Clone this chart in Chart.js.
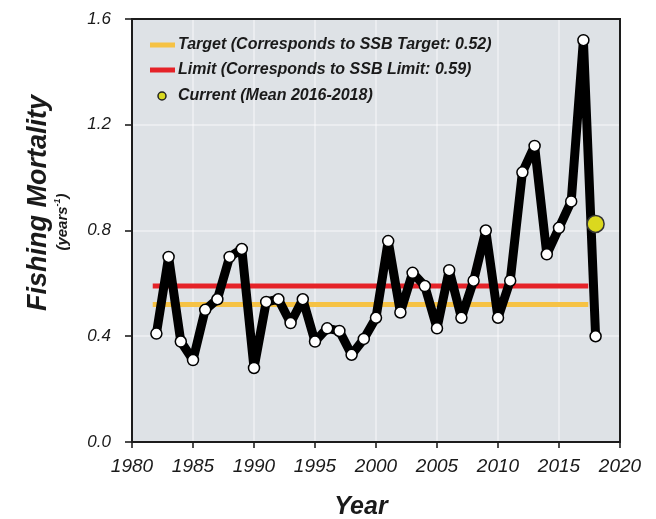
<!DOCTYPE html>
<html>
<head>
<meta charset="utf-8">
<script src="https://cdn.jsdelivr.net/npm/chart.js@4.4.1/dist/chart.umd.min.js"></script>
<style>
  html, body { margin: 0; padding: 0; background: #fff; }
  #wrap { width: 656px; height: 519px; position: relative; }
</style>
</head>
<body>
<div id="wrap"><canvas id="fChart"></canvas></div>
<script>
  // Fishing mortality by year
  const years = [1982, 1983, 1984, 1985, 1986, 1987, 1988, 1989, 1990, 1991,
    1992, 1993, 1994, 1995, 1996, 1997, 1998, 1999, 2000, 2001,
    2002, 2003, 2004, 2005, 2006, 2007, 2008, 2009, 2010, 2011,
    2012, 2013, 2014, 2015, 2016, 2017, 2018]
  const fValues = [0.41, 0.70, 0.38, 0.31, 0.50, 0.54, 0.70, 0.73, 0.28, 0.53,
    0.54, 0.45, 0.54, 0.38, 0.43, 0.42, 0.33, 0.39, 0.47, 0.76,
    0.49, 0.64, 0.59, 0.43, 0.65, 0.47, 0.61, 0.80, 0.47, 0.61,
    1.02, 1.12, 0.71, 0.81, 0.91, 1.52, 0.40]

  const refYears = [1981.7, 2017.4]
  const targetF = 0.52
  const limitF = 0.59
  const currentYear = 2018
  const currentF = 0.825

  const xTicks = [1980, 1985, 1990, 1995, 2000, 2005, 2010, 2015, 2020]
  const yTicks = [0, 0.4, 0.8, 1.2, 1.6]

  const labels = {
    target: 'Target (Corresponds to SSB Target: 0.52)',
    limit: 'Limit (Corresponds to SSB Limit: 0.59)',
    current: 'Current (Mean 2016-2018)'
  }

  const FONT = '"Liberation Sans", Arial, sans-serif'
  const TEXT = '#1a1a1a'

  const frameAndText = {
    id: 'frameAndText',
    beforeDatasetsDraw(chart) {
      const { ctx, chartArea: a } = chart
      ctx.save()
      ctx.strokeStyle = '#1c1c1c'
      ctx.lineWidth = 2
      ctx.strokeRect(a.left, a.top, a.right - a.left, a.bottom - a.top)
      ctx.restore()
    },
    afterDraw(chart) {
      const { ctx, chartArea: a } = chart
      ctx.save()
      // legend
      const lx = a.left + 18
      const rows = [
        { y: 45, type: 'line', color: '#f6c244', text: labels.target },
        { y: 70, type: 'line', color: '#e52228', text: labels.limit },
        { y: 96, type: 'dot', color: '#d8d820', text: labels.current }
      ]
      ctx.font = 'italic bold 16px ' + FONT
      ctx.textBaseline = 'middle'
      rows.forEach(r => {
        if (r.type === 'line') {
          ctx.strokeStyle = r.color
          ctx.lineWidth = 5
          ctx.beginPath()
          ctx.moveTo(lx, r.y)
          ctx.lineTo(lx + 25, r.y)
          ctx.stroke()
        } else {
          ctx.fillStyle = r.color
          ctx.strokeStyle = '#222'
          ctx.lineWidth = 1.5
          ctx.beginPath()
          ctx.arc(lx + 12, r.y, 4, 0, Math.PI * 2)
          ctx.fill()
          ctx.stroke()
        }
        ctx.fillStyle = TEXT
        ctx.textAlign = 'left'
        ctx.fillText(r.text, lx + 28, r.y)
      })

      // y title
      ctx.fillStyle = TEXT
      ctx.textAlign = 'center'
      ctx.save()
      ctx.translate(39, 203)
      ctx.rotate(-Math.PI / 2)
      ctx.font = 'italic bold 27px ' + FONT
      ctx.fillText('Fishing Mortality', 0, 0)
      ctx.restore()

      ctx.save()
      ctx.translate(63, 222)
      ctx.rotate(-Math.PI / 2)
      ctx.font = 'italic bold 15px ' + FONT
      const p1 = '(years', sup = '-1', p2 = ')'
      const w1 = ctx.measureText(p1).width
      const w3 = ctx.measureText(p2).width
      ctx.font = 'italic bold 9px ' + FONT
      const w2 = ctx.measureText(sup).width
      let x0 = -(w1 + w2 + w3) / 2
      ctx.textAlign = 'left'
      ctx.font = 'italic bold 15px ' + FONT
      ctx.fillText(p1, x0, 0)
      ctx.font = 'italic bold 9px ' + FONT
      ctx.fillText(sup, x0 + w1, -5)
      ctx.font = 'italic bold 15px ' + FONT
      ctx.fillText(p2, x0 + w1 + w2, 0)
      ctx.restore()

      // x title
      ctx.textAlign = 'center'
      ctx.font = 'italic bold 25px ' + FONT
      ctx.fillText('Year', 361, 507)
      ctx.restore()
    }
  }

  const chart = new Chart(document.getElementById('fChart'), {
    type: 'line',
    data: {
      datasets: [
        {
          label: labels.current,
          data: [{ x: currentYear, y: currentF }],
          showLine: false,
          pointRadius: 8.5,
          pointBackgroundColor: '#dbd81e',
          pointBorderColor: '#333',
          pointBorderWidth: 1.5
        },
        {
          label: 'F',
          data: years.map((y, i) => ({ x: y, y: fValues[i] })),
          borderColor: '#000',
          borderWidth: 9,
          borderJoinStyle: 'round',
          borderCapStyle: 'round',
          pointRadius: 5.5,
          pointBackgroundColor: '#fff',
          pointBorderColor: '#000',
          pointBorderWidth: 1.5
        },
        {
          label: labels.limit,
          data: refYears.map(y => ({ x: y, y: limitF })),
          borderColor: '#e52228',
          borderWidth: 5,
          pointRadius: 0
        },
        {
          label: labels.target,
          data: refYears.map(y => ({ x: y, y: targetF })),
          borderColor: '#f6c244',
          borderWidth: 5,
          pointRadius: 0
        }
      ]
    },
    options: {
      responsive: true,
      maintainAspectRatio: false,
      animation: false,
      layout: { padding: { left: 0, top: 19, right: 36, bottom: 0 } },
      plugins: {
        legend: { display: false },
        tooltip: { enabled: false }
      },
      scales: {
        x: {
          type: 'linear',
          min: xTicks[0],
          max: xTicks[xTicks.length - 1],
          afterFit: s => { s.height = 77; s.paddingLeft = 0; s.paddingRight = 0 },
          afterBuildTicks: s => {
            s.ticks = xTicks.map(v => ({ value: v }))
          },
          grid: {
            color: 'rgba(255,255,255,0.4)',
            lineWidth: 2,
            tickColor: '#111',
            tickLength: 6,
            tickWidth: 1.5
          },
          border: { display: false },
          ticks: {
            color: TEXT,
            padding: 7,
            font: { family: FONT, size: 19, style: 'italic' },
            callback: v => String(v)
          }
        },
        y: {
          min: yTicks[0],
          max: yTicks[yTicks.length - 1],
          afterFit: s => { s.width = 132; s.paddingTop = 0; s.paddingBottom = 0 },
          afterBuildTicks: s => {
            s.ticks = yTicks.map(v => ({ value: v }))
          },
          grid: {
            color: 'rgba(255,255,255,0.4)',
            lineWidth: 2,
            tickColor: '#111',
            tickLength: 7,
            tickWidth: 1.5
          },
          border: { display: false },
          ticks: {
            color: TEXT,
            padding: 14,
            font: { family: FONT, size: 17, style: 'italic' },
            callback: v => v.toFixed(1)
          }
        }
      }
    },
    plugins: [
      {
        id: 'plotBg',
        beforeDraw(chart) {
          const { ctx, chartArea: a } = chart
          ctx.save()
          ctx.fillStyle = '#dee2e6'
          ctx.fillRect(a.left, a.top, a.right - a.left, a.bottom - a.top)
          ctx.restore()
        }
      },
      frameAndText
    ]
  })
</script>
</body>
</html>
